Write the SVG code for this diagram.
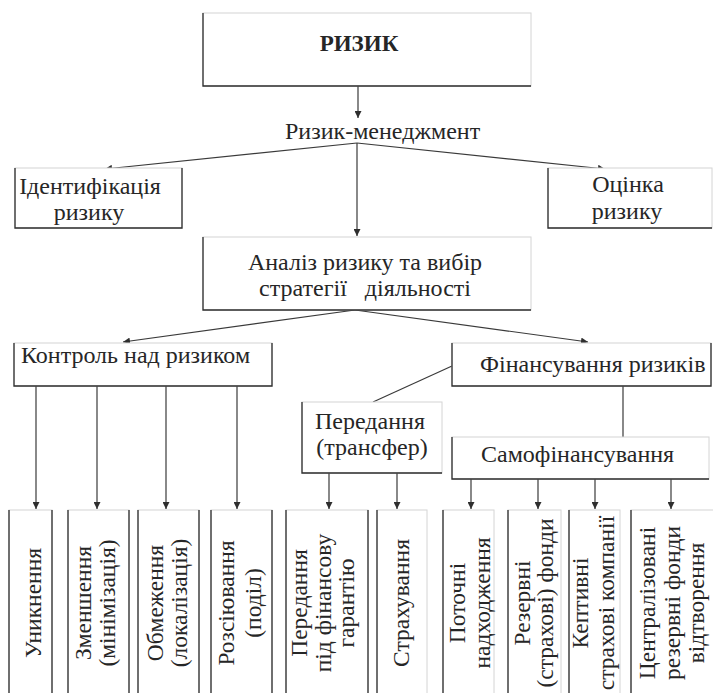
<svg xmlns="http://www.w3.org/2000/svg" width="713" height="693" viewBox="0 0 713 693">
<style>
  text { font-family: "Liberation Serif", "DejaVu Serif", serif; fill: #262626; font-size: 24px; }
  .b { font-weight: bold; font-size: 23px; }
  .m { text-anchor: middle; }
  .v { text-anchor: middle; font-size: 23.5px; }
  .lt { fill: #ffffff; stroke: #d4d4d4; stroke-width: 1; }
  .dk { fill: none; stroke: #2e2e2e; stroke-width: 1.3; }
  .ln { fill: none; stroke: #3a3a3a; stroke-width: 1.2; }
</style>
<defs>
  <marker id="ah" viewBox="0 0 10 10" refX="10" refY="5" markerWidth="7" markerHeight="7" markerUnits="userSpaceOnUse" orient="auto">
    <path d="M0,0 L10,5 L0,10 z" fill="#2e2e2e"/>
  </marker>
</defs>
<rect width="713" height="693" fill="#ffffff"/>

<g id="connectors">
  <path class="ln" d="M358,86 V118" marker-end="url(#ah)"/>
  <path class="ln" d="M357,143 L105,169" marker-end="url(#ah)"/>
  <path class="ln" d="M357,143 L605,169" marker-end="url(#ah)"/>
  <path class="ln" d="M357,143 V236" marker-end="url(#ah)"/>
  <path class="ln" d="M355,310 L123,342" marker-end="url(#ah)"/>
  <path class="ln" d="M355,310 L588,342" marker-end="url(#ah)"/>
  <path class="ln" d="M452,366 L373,402"/>
  <path class="ln" d="M623,386 V437"/>
  <path class="ln" d="M36,386 V509" marker-end="url(#ah)"/>
  <path class="ln" d="M97,386 V509" marker-end="url(#ah)"/>
  <path class="ln" d="M166,386 V509" marker-end="url(#ah)"/>
  <path class="ln" d="M237,386 V509" marker-end="url(#ah)"/>
  <path class="ln" d="M329,473 V509" marker-end="url(#ah)"/>
  <path class="ln" d="M397,473 V509" marker-end="url(#ah)"/>
  <path class="ln" d="M471,479 V509" marker-end="url(#ah)"/>
  <path class="ln" d="M538,479 V509" marker-end="url(#ah)"/>
  <path class="ln" d="M595,479 V509" marker-end="url(#ah)"/>
  <path class="ln" d="M671,479 V509" marker-end="url(#ah)"/>
</g>

<g id="ryzyk">
  <rect class="lt" x="203" y="13" width="328" height="73"/>
  <path class="dk" d="M203,13 V86 H531"/>
  <text class="b m" x="359" y="51">РИЗИК</text>
</g>

<g id="ryzyk-menedzhment">
  <text x="285" y="139">Ризик-менеджмент</text>
</g>

<g id="identyfikatsiia">
  <rect class="lt" x="15" y="168" width="167" height="60"/>
  <path class="dk" d="M15,168 V228 H182 V168"/>
  <text class="m" x="90" y="194">Ідентифікація</text>
  <text class="m" x="89" y="220">ризику</text>
</g>

<g id="otsinka">
  <rect class="lt" x="548" y="168" width="164" height="60"/>
  <path class="dk" d="M548,168 V228 H712"/>
  <text class="m" x="628" y="192">Оцінка</text>
  <text class="m" x="627" y="219">ризику</text>
</g>

<g id="analiz">
  <rect class="lt" x="203" y="237" width="328" height="73"/>
  <path class="dk" d="M203,237 V310 H531"/>
  <text class="m" x="365" y="270">Аналіз ризику та вибір</text>
  <text class="m" x="365" y="296" xml:space="preserve">стратегії   діяльності</text>
</g>

<g id="kontrol">
  <rect class="lt" x="14" y="343" width="258" height="43"/>
  <path class="dk" d="M14,343 V386 H272 V343"/>
  <text x="21" y="363">Контроль над ризиком</text>
</g>

<g id="finansuvannia">
  <rect class="lt" x="452" y="343" width="259" height="43"/>
  <path class="dk" d="M452,343 V386 H711 V343"/>
  <text x="480" y="372">Фінансування ризиків</text>
</g>

<g id="peredannia">
  <rect class="lt" x="302" y="402" width="140" height="71"/>
  <path class="dk" d="M302,402 V473 H442"/>
  <text class="m" x="370" y="429">Передання</text>
  <text class="m" x="372" y="455">(трансфер)</text>
</g>

<g id="samofinansuvannia">
  <rect class="lt" x="452" y="437" width="257" height="42"/>
  <path class="dk" d="M452,437 V479 H709"/>
  <text x="481" y="462">Самофінансування</text>
</g>

<g id="c1">
  <rect class="lt" x="9" y="510" width="43" height="190"/>
  <path class="dk" d="M9,510 V693 M52,510 V693"/>
  <text class="v" transform="translate(41,603) rotate(-90)">Уникнення</text>
</g>
<g id="c2">
  <rect class="lt" x="68" y="510" width="61" height="190"/>
  <path class="dk" d="M68,510 V693 M129,510 V693"/>
  <text class="v" transform="translate(91,603) rotate(-90)">Зменшення</text>
  <text class="v" transform="translate(115,603) rotate(-90)">(мінімізація)</text>
</g>
<g id="c3">
  <rect class="lt" x="138" y="510" width="61" height="190"/>
  <path class="dk" d="M138,510 V693 M199,510 V693"/>
  <text class="v" transform="translate(163,603) rotate(-90)">Обмеження</text>
  <text class="v" transform="translate(187,603) rotate(-90)">(локалізація)</text>
</g>
<g id="c4">
  <rect class="lt" x="211" y="510" width="61" height="190"/>
  <path class="dk" d="M211,510 V693 M272,510 V693"/>
  <text class="v" transform="translate(234,603) rotate(-90)">Розсіювання</text>
  <text class="v" transform="translate(261,603) rotate(-90)">(поділ)</text>
</g>
<g id="c5">
  <rect class="lt" x="286" y="510" width="82" height="190"/>
  <path class="dk" d="M286,510 V693 M368,510 V693"/>
  <text class="v" transform="translate(307,603) rotate(-90)">Передання</text>
  <text class="v" transform="translate(331,603) rotate(-90)">під фінансову</text>
  <text class="v" transform="translate(354,603) rotate(-90)">гарантію</text>
</g>
<g id="c6">
  <rect class="lt" x="377" y="510" width="50" height="190"/>
  <path class="dk" d="M377,510 V693"/>
  <text class="v" transform="translate(409,603) rotate(-90)">Страхування</text>
</g>
<g id="c7">
  <rect class="lt" x="443" y="510" width="51" height="190"/>
  <path class="dk" d="M443,510 V693"/>
  <text class="v" transform="translate(465,603) rotate(-90)">Поточні</text>
  <text class="v" transform="translate(490,603) rotate(-90)">надходження</text>
</g>
<g id="c8">
  <rect class="lt" x="508" y="510" width="53" height="190"/>
  <path class="dk" d="M508,510 V693"/>
  <text class="v" transform="translate(530,603) rotate(-90)">Резервні</text>
  <text class="v" transform="translate(553,603) rotate(-90)">(страхові) фонди</text>
</g>
<g id="c9">
  <rect class="lt" x="569" y="510" width="51" height="190"/>
  <path class="dk" d="M569,510 V693"/>
  <text class="v" transform="translate(588,603) rotate(-90)">Кептивні</text>
  <text class="v" transform="translate(614,603) rotate(-90)">страхові компанії</text>
</g>
<g id="c10">
  <rect class="lt" x="631" y="510" width="90" height="190"/>
  <path class="dk" d="M631,510 V693"/>
  <text class="v" transform="translate(655,603) rotate(-90)">Централізовані</text>
  <text class="v" transform="translate(680,603) rotate(-90)">резервні фонди</text>
  <text class="v" transform="translate(704,603) rotate(-90)">відтворення</text>
</g>
</svg>
